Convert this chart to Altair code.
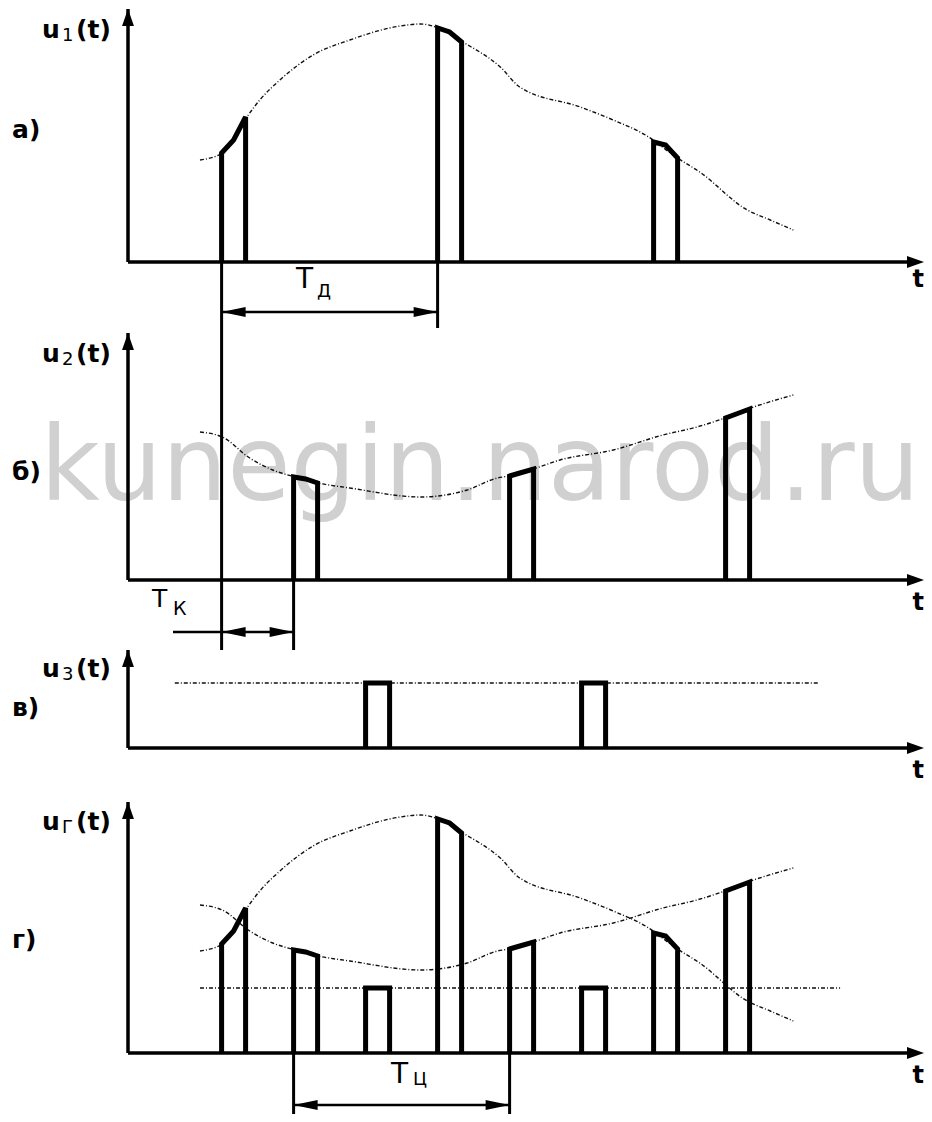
import altair as alt
import pandas as pd

# ---------------- values ----------------
# time in units of the channel shift T_K  (T_Д = T_Ц = 3, pulse width 1/3)
u1_t = [1.0, 1.31, 1.65, 1.83, 2.11, 2.57, 3.08, 3.78, 4.06, 4.31, 4.65, 5.17, 5.44,
        6.28, 6.74, 7.21, 7.61, 7.94, 8.6, 8.92, 9.24]
u1_v = [2.04, 2.18, 2.9, 3.24, 3.64, 4.14, 4.44, 4.72, 4.76, 4.68, 4.4, 3.9, 3.5,
        3.1, 2.84, 2.52, 2.1, 1.8, 1.04, 0.84, 0.64]
u2_t = [1.0, 1.31, 1.69, 2.01, 2.32, 2.64, 3.08, 4.06, 4.71, 5.13, 5.29, 5.63, 6.0,
        6.74, 7.43, 7.9, 8.29, 8.61, 9.24]
u2_v = [2.96, 2.86, 2.44, 2.2, 2.06, 1.94, 1.84, 1.66, 1.8, 2.04, 2.08, 2.22, 2.4,
        2.6, 2.9, 3.06, 3.24, 3.42, 3.7]
u3_level = 1.3
u3_span_c = [0.65, 9.58]   # dotted level in panel в
u3_span_d = [1.0, 9.89]    # dotted level in panel г

tau = 1 / 3
p1_start = [1.3, 4.3, 7.3]
p1_top = [[2.18, 2.44, 2.9], [4.68, 4.6, 4.4], [2.4, 2.34, 2.08]]
p2_start = [2.3, 5.3, 8.3]
p2_top = [[2.06, 2.02, 1.94], [2.08, 2.15, 2.22], [3.24, 3.33, 3.42]]
p3_start = [3.3, 6.3]

signal_subs = ["1", "2", "3", "Г"]
panel_letters = ["а)", "б)", "в)", "г)"]
watermark = "kunegin.narod.ru"

# ---------------- layout (sheet units) ----------------
base = [15.82, 9.46, 6.1, 0.0]          # baselines of panels а, б, в, г
axis_top = [5.06, 4.94, 1.96, 5.02]
t_end = 796 / 72
lab_v = [20.3, 13.82, 7.52, 4.46]       # baseline of u-labels
let_v = [18.3, 11.46, 6.74, 2.1]        # baseline of panel letters
tlab_v = [15.32, 8.86, 5.5, -0.6]       # baseline of the "t" labels

xs = alt.Scale(domain=[-120 / 72, 796 / 72], nice=False, zero=False)
ys = alt.Scale(domain=[-61 / 50, 1045 / 50], nice=False, zero=False)


def X(f="t"):
    return alt.X(f"{f}:Q", scale=xs, axis=None)


def Y(f="v"):
    return alt.Y(f"{f}:Q", scale=ys, axis=None)


# ---- curves ----
crow = []
for cid, (ts, vs, b) in enumerate([(u1_t, u1_v, base[0]), (u2_t, u2_v, base[1]),
                                   (u1_t, u1_v, base[3]), (u2_t, u2_v, base[3])]):
    for k, (t, v) in enumerate(zip(ts, vs)):
        crow.append(dict(cid=cid, k=k, t=t, v=b + v))
curves = alt.Chart(pd.DataFrame(crow)).mark_line(
    color="#111", strokeWidth=1.4, strokeDash=[4, 2, 1, 2], interpolate="monotone"
).encode(x=X(), y=Y(), detail="cid:N", order="k:Q")

levels = alt.Chart(pd.DataFrame([
    dict(t=u3_span_c[0], t2=u3_span_c[1], v=base[2] + u3_level),
    dict(t=u3_span_d[0], t2=u3_span_d[1], v=base[3] + u3_level),
])).mark_rule(color="#111", strokeWidth=1.6, strokeDash=[4, 2, 1, 2]).encode(
    x=X(), x2="t2:Q", y=Y())

# ---- pulses ----
prow = []


def add_pulse(pid, t0, tops, b):
    pts = [(t0, 0), (t0, tops[0]), (t0 + tau / 2, tops[1]), (t0 + tau, tops[2]), (t0 + tau, 0)]
    for k, (t, h) in enumerate(pts):
        prow.append(dict(pid=pid, k=k, t=t, v=b + h))


pid = 0
for b in (base[0], base[3]):
    for t0, tp in zip(p1_start, p1_top):
        add_pulse(pid, t0, tp, b); pid += 1
for b in (base[1], base[3]):
    for t0, tp in zip(p2_start, p2_top):
        add_pulse(pid, t0, tp, b); pid += 1
for b in (base[2], base[3]):
    for t0 in p3_start:
        add_pulse(pid, t0, [u3_level] * 3, b); pid += 1

pulses = alt.Chart(pd.DataFrame(prow)).mark_line(
    color="black", strokeWidth=5, strokeJoin="miter"
).encode(x=X(), y=Y(), detail="pid:N", order="k:Q")

# ---- axes ----
arow = []
for b, top in zip(base, axis_top):
    arow.append(dict(t=0, t2=0, v=b, v2=b + top))
    arow.append(dict(t=0, t2=t_end - 0.1, v=b, v2=b))
axes = alt.Chart(pd.DataFrame(arow)).mark_rule(color="black", strokeWidth=3.5).encode(
    x=X(), x2="t2:Q", y=Y(), y2="v2:Q")

up_tips = alt.Chart(pd.DataFrame([dict(t=0, v=b + top) for b, top in zip(base, axis_top)])).mark_point(
    shape="M0,-1L-0.7,1L0.7,1Z", size=289, filled=True, opacity=1, color="black",
    strokeWidth=0, yOffset=8.5).encode(x=X(), y=Y())
right_tips = alt.Chart(pd.DataFrame([dict(t=t_end, v=b) for b in base])).mark_point(
    shape="M1,0L-1,-0.7L-1,0.7Z", size=289, filled=True, opacity=1, color="black",
    strokeWidth=0, xOffset=-8.5).encode(x=X(), y=Y())

# ---- dimension lines ----
TD_v = base[0] - 1.0
TK_v = 8.42
TC_v = -1.04
drow = [
    dict(t=p1_start[0], t2=p1_start[0], v=base[0], v2=8.06),
    dict(t=p1_start[1], t2=p1_start[1], v=base[0], v2=14.5),
    dict(t=p2_start[0], t2=p2_start[0], v=base[1], v2=8.06),
    dict(t=p2_start[0], t2=p2_start[0], v=base[3], v2=-1.4),
    dict(t=p2_start[1], t2=p2_start[1], v=base[3], v2=-1.4),
]
dims_v = alt.Chart(pd.DataFrame(drow)).mark_rule(color="black", strokeWidth=3).encode(
    x=X(), x2="t2:Q", y=Y(), y2="v2:Q")
hrow = [
    dict(t=p1_start[0], t2=p1_start[1], v=TD_v),
    dict(t=0.625, t2=p2_start[0], v=TK_v),
    dict(t=p2_start[0], t2=p2_start[1], v=TC_v),
]
dims_h = alt.Chart(pd.DataFrame(hrow)).mark_rule(color="black", strokeWidth=2.5).encode(
    x=X(), x2="t2:Q", y=Y())
left_heads = alt.Chart(pd.DataFrame([
    dict(t=p1_start[0], v=TD_v), dict(t=p1_start[0], v=TK_v), dict(t=p2_start[0], v=TC_v)
])).mark_point(shape="M-1,0L1,-0.42L1,0.42Z", size=576, filled=True, opacity=1,
               color="black", strokeWidth=0, xOffset=12).encode(x=X(), y=Y())
right_heads = alt.Chart(pd.DataFrame([
    dict(t=p1_start[1], v=TD_v), dict(t=p2_start[0], v=TK_v), dict(t=p2_start[1], v=TC_v)
])).mark_point(shape="M1,0L-1,-0.42L-1,0.42Z", size=576, filled=True, opacity=1,
               color="black", strokeWidth=0, xOffset=-12).encode(x=X(), y=Y())

# ---- texts ----
wm = alt.Chart(pd.DataFrame([dict(t=-1.22, v=11.06, s=watermark)])).mark_text(
    font="DejaVu Sans", fontSize=103, color="#d0d0d0", align="left", baseline="alphabetic"
).encode(x=X(), y=Y(), text="s:N")

brow, nrow = [], []
for i in range(4):
    brow.append(dict(t=-1.194, v=lab_v[i], s="u", size=25))
    brow.append(dict(t=-0.722, v=lab_v[i], s="(t)", size=25))
    brow.append(dict(t=-1.611, v=let_v[i], s=panel_letters[i], size=25))
    nrow.append(dict(t=-0.917, v=lab_v[i] - 0.06, s=signal_subs[i], size=18))
nrow += [
    dict(t=2.333, v=15.3, s="T", size=28), dict(t=2.625, v=15.12, s="Д", size=18),
    dict(t=0.333, v=8.92, s="T", size=25), dict(t=0.625, v=8.76, s="К", size=19),
    dict(t=3.653, v=-0.6, s="T", size=28), dict(t=3.958, v=-0.64, s="Ц", size=18),
]
bold_txt = alt.Chart(pd.DataFrame(brow)).mark_text(
    font="DejaVu Sans", fontWeight="bold", align="left", baseline="alphabetic", color="black"
).encode(x=X(), y=Y(), text="s:N", size=alt.Size("size:Q", scale=None))
norm_txt = alt.Chart(pd.DataFrame(nrow)).mark_text(
    font="DejaVu Sans", align="left", baseline="alphabetic", color="black"
).encode(x=X(), y=Y(), text="s:N", size=alt.Size("size:Q", scale=None))
t_txt = alt.Chart(pd.DataFrame([dict(t=t_end, v=v, s="t") for v in tlab_v])).mark_text(
    font="DejaVu Sans", fontWeight="bold", fontSize=24, align="right", baseline="alphabetic",
    color="black").encode(x=X(), y=Y(), text="s:N")

chart = alt.layer(
    wm, curves, levels, pulses, axes, up_tips, right_tips,
    dims_v, dims_h, left_heads, right_heads, bold_txt, norm_txt, t_txt
).properties(
    width=916, height=1106, padding=0, autosize=alt.AutoSizeParams(type="none")
).configure_view(stroke=None)

chart.save("out.html", embed_options={"renderer": "svg", "actions": False})
